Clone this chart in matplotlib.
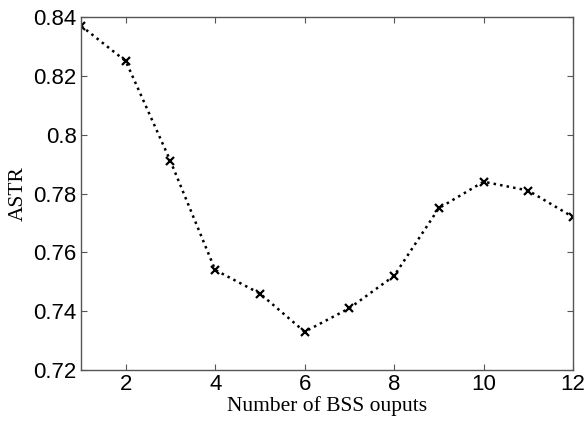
import numpy as np
import matplotlib
matplotlib.use('Agg')
import matplotlib.pyplot as plt

# ─── Data ─────────────────────────────────────────────────────────────────────
n_outputs = [1, 2, 3, 4, 5, 6, 7, 8, 9, 10, 11, 12]
astr = [0.837, 0.825, 0.791, 0.754, 0.746, 0.733,
        0.741, 0.752, 0.775, 0.784, 0.781, 0.772]
x_ticks = [2, 4, 6, 8, 10, 12]
y_ticks = [0.72, 0.74, 0.76, 0.78, 0.80, 0.82, 0.84]
y_labels = ['0.72', '0.74', '0.76', '0.78', '0.8', '0.82', '0.84']

# ─── Figure ───────────────────────────────────────────────────────────────────
fig = plt.figure(figsize=(5.85, 4.22), dpi=100)
ax = fig.add_axes([0.1385, 0.1232, 0.841, 0.8365])

ax.plot(n_outputs, astr, linestyle=':', color='black', linewidth=1.8,
        marker='x', markersize=6, markeredgewidth=1.6)

ax.set_xlim(1, 12)
ax.set_ylim(0.72, 0.84)
ax.set_xticks(x_ticks)
ax.set_yticks(y_ticks)
ax.set_yticklabels(y_labels)

for s in ax.spines.values():
    s.set_color('#555555')
    s.set_linewidth(1.0)
ax.tick_params(direction='in', top=True, right=True, length=4,
               color='#555555', labelsize=16, pad=3)
for lab in ax.get_xticklabels() + ax.get_yticklabels():
    lab.set_fontfamily('Liberation Sans')

ax.set_xlabel('Number of BSS ouputs', fontfamily='Liberation Serif',
              fontsize=15.5, labelpad=1)
ax.set_ylabel('ASTR', fontfamily='Liberation Serif', fontsize=15.5, labelpad=4)

fig.savefig('out.png', dpi=100)
